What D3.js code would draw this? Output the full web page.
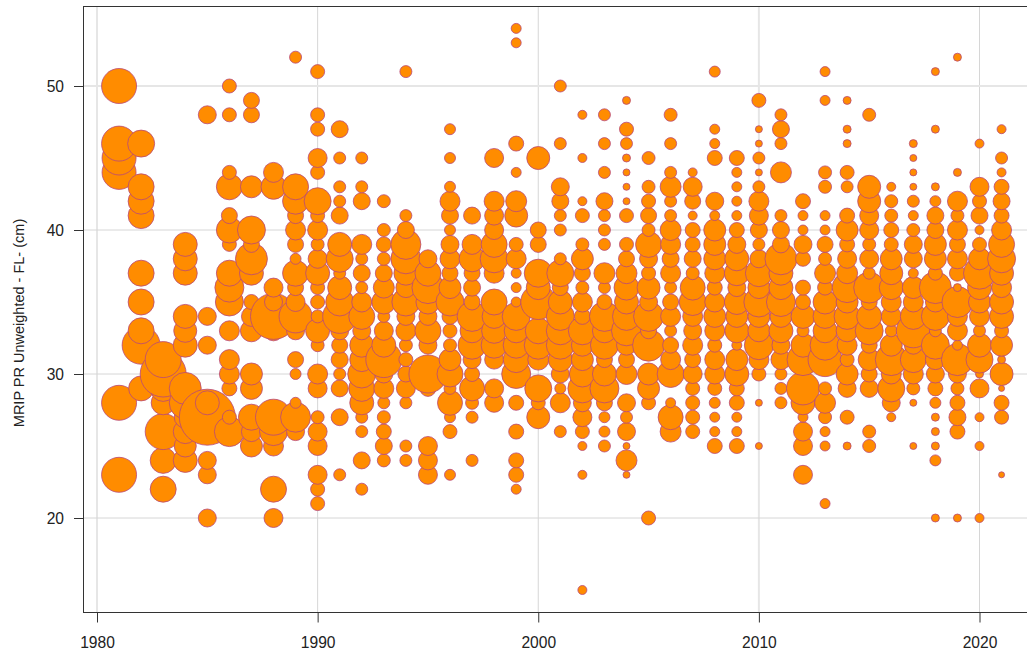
<!DOCTYPE html>
<html><head><meta charset="utf-8">
<script src="https://cdn.jsdelivr.net/npm/d3@7"></script>
<style>html,body{margin:0;padding:0;background:#fff;overflow:hidden}svg{display:block}text{font-family:"Liberation Sans",Arial,sans-serif;fill:#222}</style>
</head><body><div id="chart"></div>
<script>
// [fork length (cm), relative sample size]
const fl1981=[[23,17.5],[28,17.5],[44,17],[45,17],[46,17.5],[50,17.5]];
const fl1982=[[29,12.5],[32,19],[33,13],[35,13],[37,13],[41,13],[42,13],[43,13],[46,13.5]];
const fl1983=[[22,13],[24,13],[26,18],[28,12],[29,13],[30,23],[31,18]];
const fl1984=[[24,12],[25,11],[26,12],[27,11],[28,16],[29,16],[32,12],[33,11.5],[34,12],[37,12],[38,12],[39,12]];
const fl1985=[[20,9],[23,9],[24,9],[27,28],[28,12],[32,9],[34,9],[48,9]];
const fl1986=[[26,15],[27,7],[29,7.5],[30,10],[31,10],[33,10],[35,14],[36,14.5],[37,13],[39,7],[40,13],[41,8],[43,13],[44,7],[48,7],[50,7]];
const fl1987=[[25,11],[26,10],[27,13],[29,11],[30,11],[33,11],[34,10],[35,7.5],[37,12],[38,16],[39,8],[40,14],[43,11],[48,8],[49,8]];
const fl1988=[[20,9.5],[22,13],[25,10],[26,14],[27,18],[33,10],[34,23],[35,9],[36,9.5],[43,12.5],[44,10]];
const fl1989=[[26,9],[27,15],[28,5.5],[30,5.5],[31,8],[33,9],[34,16.5],[35,9.5],[36,8],[37,13],[38,5.5],[39,8],[40,10],[41,8],[42,13],[43,13],[52,6]];
const fl1990=[[21,7],[22,7],[23,9.5],[25,9.5],[26,9.5],[27,6.5],[29,9.5],[30,10],[32,6.5],[33,12],[34,6.5],[35,7],[36,7],[37,12],[38,9.5],[39,6.5],[40,10],[41,7],[42,13.5],[44,7],[45,9.5],[47,7],[48,7],[51,7]];
const fl1991=[[23,6],[27,8.5],[29,8.5],[30,6],[31,8.5],[32,8],[33,9],[34,17],[35,14],[36,12],[37,6],[38,13.5],[39,12],[41,8.5],[42,6],[43,6],[45,6],[47,8.5]];
const fl1992=[[22,6],[24,8.5],[26,6],[27,6],[28,12],[29,13],[30,14],[31,12],[32,12],[33,9],[34,13],[35,10],[36,6],[37,8.5],[38,6],[39,10],[42,8.5],[43,6],[45,6]];
const fl1993=[[24,6.5],[25,8.5],[26,7.5],[27,6.5],[28,6],[29,10],[30,9],[31,18],[32,12],[33,9.5],[34,6],[35,12],[36,10.5],[37,8.5],[38,6.5],[39,7.5],[40,6.5],[42,6.5]];
const fl1994=[[24,6],[25,6],[28,6],[29,9.5],[30,8],[31,7],[32,6.5],[33,10],[34,9],[35,14],[36,10],[37,12],[38,15],[39,15],[40,8.5],[41,6],[51,6]];
const fl1995=[[23,9.5],[24,9.5],[25,9.5],[29,8],[30,19],[32,9],[33,13],[34,9],[35,12],[36,16],[37,13],[38,9]];
const fl1996=[[23,5.5],[26,7],[27,5.5],[28,12.5],[29,6],[30,13],[31,11],[32,6.5],[33,7],[34,8],[35,14],[36,11],[37,8],[38,10],[39,9],[40,5.5],[41,8.5],[42,10],[43,5.5],[45,5.5],[47,5.5]];
const fl1997=[[24,6],[27,6],[28,6.5],[29,12.5],[30,7.5],[31,9],[32,14],[33,12],[34,15],[35,8],[36,8.5],[37,8],[38,13],[39,10],[41,8.5]];
const fl1998=[[28,9.5],[29,9.5],[31,9.5],[32,13],[33,12.5],[34,12],[35,13],[37,10],[38,14],[39,13],[40,9.5],[41,9.5],[42,10],[45,9.5]];
const fl1999=[[22,5],[23,7.5],[24,7.5],[26,7.5],[28,7.5],[30,14.5],[31,13],[32,13],[33,12],[34,14],[35,5],[36,5],[37,5],[38,10],[39,7],[41,11.5],[42,10.5],[44,5],[46,7.5],[53,5],[54,5]];
const fl2000=[[27,11.5],[28,7],[29,13.5],[31,10.5],[32,14],[33,13],[35,17.5],[36,12],[37,14],[39,8],[40,8],[45,11.5]];
const fl2001=[[26,6],[28,10],[29,5.5],[30,9],[31,12],[32,14],[33,14],[34,14],[35,12],[36,8],[37,13.5],[38,6],[40,6],[41,6],[42,8.5],[43,9],[46,6],[50,6]];
const fl2002=[[15,4.5],[23,4.5],[25,4.5],[26,7],[27,9.5],[28,9],[29,14.5],[30,13],[31,11],[32,11],[33,14],[34,8],[35,10],[36,6.5],[37,8],[38,11],[39,6.5],[41,7],[42,4.5],[45,4.5],[48,4.5]];
const fl2003=[[25,6],[26,5.5],[27,5.5],[28,8],[29,14.5],[30,12],[31,8],[32,14],[33,12],[34,15],[35,7.5],[36,6],[37,10.5],[39,6],[40,6],[41,6],[42,8.5],[44,6],[46,6],[48,6]];
const fl2004=[[23,3.5],[24,10.5],[25,3.5],[26,9],[27,6],[28,9],[30,10.5],[31,8],[32,10],[33,15],[34,14],[35,12],[36,12.5],[37,10.5],[38,8],[39,7],[41,7],[42,3.5],[43,3.5],[44,3.5],[45,4],[46,6],[47,7],[49,4]];
const fl2005=[[20,7],[28,7],[29,11],[30,11],[32,16],[33,8],[34,15],[35,9],[36,11.5],[37,7],[38,9],[39,13],[40,6.5],[41,8],[42,7],[43,6.5],[45,6.5]];
const fl2006=[[26,10.5],[27,12.5],[28,5],[30,13.5],[31,10],[32,8],[33,6],[34,10],[35,8],[36,6],[37,10],[38,8.5],[39,10],[40,10.5],[41,6],[42,6],[43,10.5],[44,6],[46,6],[48,6.5]];
const fl2007=[[26,7],[27,7],[28,7],[29,7],[30,9.5],[31,8],[32,10],[33,9],[34,10],[35,13.5],[36,12.5],[37,6.5],[38,8.5],[39,7.5],[40,7.5],[41,4.5],[42,8],[43,9.5],[44,4.5]];
const fl2008=[[25,7.5],[26,5],[27,5],[28,5.5],[29,7],[30,10],[31,10],[32,7],[33,10],[34,11],[35,10],[36,7.5],[37,10],[38,11],[39,11],[40,11],[41,5],[42,9],[45,7.5],[46,5],[47,5],[51,5.5]];
const fl2009=[[25,7.5],[26,5],[27,5],[28,7.5],[29,7.5],[30,12],[31,11],[32,5],[33,12],[34,11],[35,12.5],[36,9],[37,12.5],[38,12],[39,9],[40,7.5],[41,5],[42,5],[43,5],[44,5],[45,7.5]];
const fl2010=[[25,3.5],[28,3.5],[30,7],[31,10],[32,14.5],[33,11],[34,11],[35,15],[36,11],[37,13.5],[38,9],[39,6],[40,8.5],[41,9.5],[42,10],[43,6],[44,3.5],[45,6],[46,3.5],[47,3.5],[49,7]];
const fl2011=[[28,6],[29,6],[30,6],[31,10],[32,9],[33,12],[34,11],[35,14.5],[36,12],[37,12],[38,16],[39,8.5],[40,8.5],[41,6],[44,10.5],[46,6],[47,8.5],[48,6]];
const fl2012=[[23,9.5],[25,9.5],[26,9.5],[27,5],[28,12],[29,16.5],[31,16],[32,12],[33,6],[34,12],[35,7.5],[36,7.5],[38,7.5],[39,9],[40,5],[41,5],[42,7.5]];
const fl2013=[[21,5],[25,5],[26,5],[27,6.5],[28,10.5],[29,6.5],[31,17],[32,15],[33,12],[34,12],[35,12],[36,7.5],[37,10.5],[38,6.5],[39,8],[40,5],[41,5],[43,6.5],[44,6.5],[49,5],[51,5]];
const fl2014=[[25,4],[27,7],[29,9],[30,11],[31,7],[32,10],[33,11],[34,13],[35,11],[36,15],[37,10.5],[38,9.5],[39,7.5],[40,11],[41,7.5],[43,6],[44,7],[46,4],[47,4],[49,4]];
const fl2015=[[25,6.5],[26,6.5],[29,9],[30,8],[31,11],[32,8],[33,14],[34,12.5],[35,8],[36,15.5],[37,6],[38,9.5],[39,6.5],[40,9.5],[41,9.5],[42,11.5],[43,11.5],[48,6.5]];
const fl2016=[[27,4.5],[28,9],[29,13.5],[30,10],[31,16],[32,11],[33,6],[34,10],[35,10],[36,12],[37,11.5],[38,11],[39,7],[40,7.5],[41,6.5],[42,6.5],[43,4.5]];
const fl2017=[[25,3.5],[28,3.5],[29,6.5],[30,10],[31,13],[32,9],[33,17],[34,13],[35,10],[36,11],[37,5],[38,9],[39,9],[40,6.5],[41,5],[42,6],[43,3.5],[44,3.5],[45,3.5],[46,4]];
const fl2018=[[20,4],[24,5.5],[25,4],[26,4],[27,4],[28,5.5],[29,7.5],[30,9],[31,10],[32,14],[33,6],[34,14],[35,10],[36,16],[37,7],[38,11],[39,11],[40,8.5],[41,8.5],[42,5.5],[43,4],[47,4],[51,4]];
const fl2019=[[20,4],[26,7.5],[27,8.5],[28,7.5],[29,6.5],[30,9],[31,16],[32,5],[33,10],[34,10],[35,15.5],[36,4],[37,8],[38,10],[39,8],[40,10],[41,6.5],[42,10],[44,4],[52,4]];
const fl2020=[[20,4.5],[25,4.5],[27,4.5],[29,9.5],[30,4],[31,13.5],[32,12],[33,6],[34,10],[35,11],[36,12],[37,16],[38,11],[39,7],[40,4.5],[41,8.5],[42,7],[43,9.5],[46,4.5]];
const fl2021=[[23,3],[27,7],[28,7.5],[29,3],[30,11.5],[31,4],[32,11],[33,7],[34,12],[35,12],[36,10],[37,12],[38,14],[39,13],[40,10],[41,7.5],[42,8.5],[43,7.5],[44,4.5],[45,6],[47,4.5]];

const yearSeries=[[1981,fl1981],[1982,fl1982],[1983,fl1983],[1984,fl1984],[1985,fl1985],[1986,fl1986],[1987,fl1987],[1988,fl1988],[1989,fl1989],[1990,fl1990],[1991,fl1991],[1992,fl1992],[1993,fl1993],[1994,fl1994],[1995,fl1995],[1996,fl1996],[1997,fl1997],[1998,fl1998],[1999,fl1999],[2000,fl2000],[2001,fl2001],[2002,fl2002],[2003,fl2003],[2004,fl2004],[2005,fl2005],[2006,fl2006],[2007,fl2007],[2008,fl2008],[2009,fl2009],[2010,fl2010],[2011,fl2011],[2012,fl2012],[2013,fl2013],[2014,fl2014],[2015,fl2015],[2016,fl2016],[2017,fl2017],[2018,fl2018],[2019,fl2019],[2020,fl2020],[2021,fl2021]];
const xTicks=[1980,1990,2000,2010,2020];
const yTicks=[20,30,40,50];
const yTitle="MRIP PR Unweighted - FL- (cm)";

const W=1027,H=656;
const x=d3.scaleLinear().domain([1980,2020]).range([97,979.5]);
const y=d3.scaleLinear().domain([20,50]).range([518,86]);
const r=d3.scaleLinear().domain([0,30]).range([0,30]);
const box={l:83.5,t:6.5,b:612.5,r:1027.5};
const svg=d3.select("#chart").append("svg").attr("width",W).attr("height",H);

const softV=d=>d===1980||d===2010, softH=d=>d===50;
const grid=svg.append("g");
grid.selectAll("line.v").data(xTicks).join("line").attr("x1",d=>x(d)).attr("x2",d=>x(d)).attr("y1",box.t).attr("y2",box.b)
  .attr("stroke",d=>softV(d)?"#e6e6e6":"#d6d6d6").attr("stroke-width",d=>softV(d)?2:1);
grid.selectAll("line.h").data(yTicks).join("line").attr("y1",d=>y(d)).attr("y2",d=>y(d)).attr("x1",box.l).attr("x2",box.r)
  .attr("stroke",d=>softH(d)?"#e6e6e6":"#d6d6d6").attr("stroke-width",d=>softH(d)?2:1);

const points=yearSeries.flatMap(([yr,rows])=>rows.map(([fl,n])=>({yr,fl,n})));
svg.append("g").selectAll("circle").data(points).join("circle")
  .attr("cx",d=>x(d.yr)).attr("cy",d=>y(d.fl)).attr("r",d=>r(d.n))
  .attr("fill","#ff8c00").attr("stroke","#b8487a").attr("stroke-width",0.8);

const xAxis=svg.append("g").attr("transform",`translate(0,${box.b})`).call(d3.axisBottom(x).tickValues(xTicks).tickFormat(d3.format("d")).tickSize(10).tickPadding(14.5));
const yAxis=svg.append("g").attr("transform",`translate(${box.l},0)`).call(d3.axisLeft(y).tickValues(yTicks).tickSize(9.5).tickPadding(10));
[xAxis,yAxis].forEach(a=>{a.select(".domain").remove();a.selectAll("line").attr("stroke","#333");a.selectAll("text").attr("font-size",15.6).attr("fill","#222")});
svg.append("rect").attr("x",box.l).attr("y",box.t).attr("width",box.r-box.l+5).attr("height",box.b-box.t).attr("fill","none").attr("stroke","#333");
svg.append("text").attr("transform","translate(24,323) rotate(-90)").attr("text-anchor","middle").attr("font-size",14.5).text(yTitle);
</script></body></html>
